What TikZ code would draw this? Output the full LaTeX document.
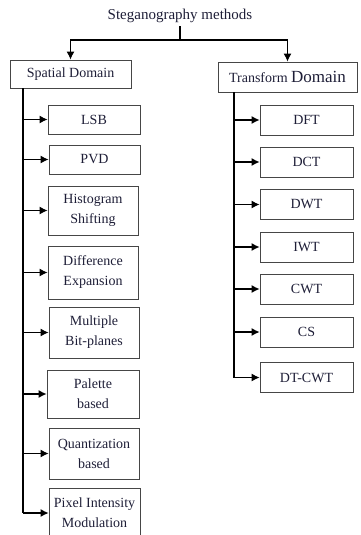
\documentclass[tikz,border=0pt]{standalone}
\usepackage{fontspec}
\setmainfont{Liberation Serif}
\usetikzlibrary{arrows.meta}
\definecolor{inkblue}{RGB}{30,30,55}
\definecolor{boxgray}{RGB}{70,70,70}

\begin{document}
\begin{tikzpicture}[x=1pt,y=-1pt]
  \tikzset{method box/.style={draw=boxgray,line width=0.7pt,text=inkblue,align=center,
      minimum width=#1,inner sep=1pt,font=\fontsize{14}{20}\selectfont},
    domain box/.style={method box=#1,minimum height=29pt},
    link/.style={line width=1.3pt},
    arrow/.style={link,-{Latex[length=8pt,width=8pt]}}}
  \useasboundingbox (0,0) rectangle (360,535);

  \node[text=inkblue,font=\fontsize{15}{18}\selectfont] (title) at (180,16) {Steganography methods};
  \node[domain box=121pt,minimum height=28pt] (spatial) at (70.5,74) {Spatial Domain};
  \node[domain box=139pt,minimum height=30pt] (transform) at (287.5,77) {Transform {\fontsize{17}{18}\selectfont Domain}};

  % spatial domain methods
  \node[method box=92pt,minimum height=29pt] (lsb) at (94,119.5) {LSB};
  \node[method box=91pt,minimum height=29pt] (pvd) at (94.5,159.5) {PVD};
  \node[method box=90pt,minimum height=49pt] (hist) at (93,210.5) {Histogram\\Shifting};
  \node[method box=90pt,minimum height=53pt] (diff) at (93,272.5) {Difference\\Expansion};
  \node[method box=90pt,minimum height=51pt] (multi) at (94,332.5) {Multiple\\Bit-planes};
  \node[method box=92pt,minimum height=48pt] (palette) at (93,394) {Palette\\based};
  \node[method box=90pt,minimum height=51pt] (quant) at (94,453.5) {Quantization\\based};
  \node[method box=91pt,minimum height=50pt] (pixel) at (94.5,513) {Pixel Intensity\\Modulation};

  % transform domain methods
  \node[method box=93pt,minimum height=30pt] (dft) at (306.5,120) {DFT};
  \node[method box=93pt,minimum height=30pt] (dct) at (306.5,162) {DCT};
  \node[method box=93pt,minimum height=30pt] (dwt) at (306.5,204.5) {DWT};
  \node[method box=93pt,minimum height=30pt] (iwt) at (306.5,247) {IWT};
  \node[method box=93pt,minimum height=30pt] (cwt) at (306.5,289) {CWT};
  \node[method box=93pt,minimum height=30pt] (cs) at (306.5,332) {CS};
  \node[method box=93pt,minimum height=30pt] (dtcwt) at (306.5,377.5) {DT-CWT};

  \coordinate (split) at (180,40);
  \coordinate (lend) at (23,513);
  \coordinate (rend) at (234,377.5);

  \draw[link] (title.south) -- (split);
  \draw[arrow] (split) -| (spatial.north);
  \draw[arrow] (split) -| (transform.north);

  \draw[link] (spatial.south -| lend) -- (lend);
  \draw[arrow] (lsb.west -| lend) -- (lsb.west);
  \draw[arrow] (pvd.west -| lend) -- (pvd.west);
  \draw[arrow] (hist.west -| lend) -- (hist.west);
  \draw[arrow] (diff.west -| lend) -- (diff.west);
  \draw[arrow] (multi.west -| lend) -- (multi.west);
  \draw[arrow] (palette.west -| lend) -- (palette.west);
  \draw[arrow] (quant.west -| lend) -- (quant.west);
  \draw[arrow] (lend) -- (pixel.west);

  \draw[link] (transform.south -| rend) -- (rend);
  \draw[arrow] (dft.west -| rend) -- (dft.west);
  \draw[arrow] (dct.west -| rend) -- (dct.west);
  \draw[arrow] (dwt.west -| rend) -- (dwt.west);
  \draw[arrow] (iwt.west -| rend) -- (iwt.west);
  \draw[arrow] (cwt.west -| rend) -- (cwt.west);
  \draw[arrow] (cs.west -| rend) -- (cs.west);
  \draw[arrow] (rend) -- (dtcwt.west);
\end{tikzpicture}
\end{document}
